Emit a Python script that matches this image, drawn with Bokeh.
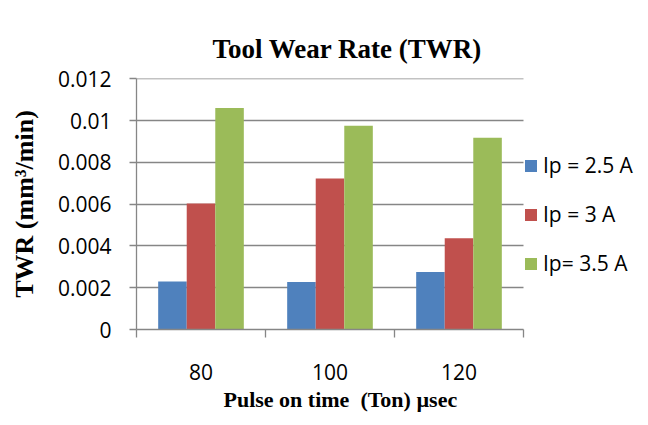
from bokeh.plotting import figure
from bokeh.models import (ColumnDataSource, Range1d, FixedTicker, LinearAxis, Grid, Title,
                          Legend, LegendItem)
from bokeh.transform import dodge
from bokeh.embed import file_html
from bokeh.resources import INLINE

# ---- data ----
categories = ["80", "100", "120"]
series_names = ["Ip = 2.5 A", "Ip = 3 A", "Ip= 3.5 A"]
ip_25 = [0.00230, 0.00227, 0.00275]
ip_30 = [0.00603, 0.00722, 0.00437]
ip_35 = [0.01060, 0.00975, 0.00918]
colors = ["#4F81BD", "#C0504D", "#9BBB59"]
y_ticks = [0, 0.002, 0.004, 0.006, 0.008, 0.010, 0.012]
y_tick_labels = ["0", "0.002", "0.004", "0.006", "0.008", "0.01", "0.012"]
title_text = "Tool Wear Rate (TWR)"
x_title = "Pulse on time\u00a0 (Ton) \u00b5sec"
y_title = "TWR (mm\u00b3/min)"

n = len(categories)
centers = [i + 0.5 for i in range(n)]
src = ColumnDataSource(dict(x=centers, a=ip_25, b=ip_30, c=ip_35))

GRAY = "#868686"
SANS = "Open Sans"
SERIF = "Liberation Serif"

W, H = 640, 417
LEFT, TOP, BOTTOM = 136, 78, 330          # frame edges in pixels
CAT_PX = 129                               # pixel width of one category
x_end = (W - LEFT) / CAT_PX                # frame reaches the right edge (legend lives inside)

p = figure(width=W, height=H, output_backend="svg", toolbar_location=None,
           x_range=Range1d(0, x_end), y_range=Range1d(0, 0.01201),
           min_border_left=LEFT, min_border_right=0, min_border_top=TOP,
           min_border_bottom=H - BOTTOM, x_axis_type=None, y_axis_type=None)
p.outline_line_color = None
p.background_fill_color = "white"
p.border_fill_color = "white"

# title
p.title.text = title_text
p.title.text_font = SERIF
p.title.text_font_style = "bold"
p.title.text_font_size = "27px"
p.title.text_color = "#000000"
p.title.align = "left"
p.title.offset = 76
p.title.standoff = 30

bw = 0.2213
renderers = []
for key, off, col in zip(["a", "b", "c"], [-bw, 0.0, bw], colors):
    r = p.vbar(x=dodge("x", off), top=key, width=bw, bottom=0, source=src,
               fill_color=col, line_color=None)
    renderers.append(r)

# y axis
yaxis = LinearAxis(ticker=FixedTicker(ticks=y_ticks, minor_ticks=[]))
yaxis.major_label_overrides = {t: l for t, l in zip(y_ticks, y_tick_labels)}
yaxis.axis_line_color = GRAY
yaxis.axis_line_width = 1.3
yaxis.major_tick_line_color = GRAY
yaxis.major_tick_line_width = 1.3
yaxis.major_tick_out = 7
yaxis.major_tick_in = 0
yaxis.minor_tick_line_color = None
yaxis.major_label_standoff = 18
yaxis.major_label_text_font = SANS
yaxis.major_label_text_font_size = "21px"
yaxis.major_label_text_color = "#000000"
yaxis.axis_label = y_title
yaxis.axis_label_text_font = SERIF
yaxis.axis_label_text_font_style = "bold"
yaxis.axis_label_text_font_size = "26px"
yaxis.axis_label_text_color = "#000000"
yaxis.axis_label_standoff = 16
p.add_layout(yaxis, "left")

# x axis (labels at category centres, ticks at boundaries)
xaxis = LinearAxis(ticker=FixedTicker(ticks=centers, minor_ticks=list(range(n + 1))),
                   bounds=(0, n))
xaxis.major_label_overrides = {c: l for c, l in zip(centers, categories)}
xaxis.axis_line_color = GRAY
xaxis.axis_line_width = 1.3
xaxis.major_tick_line_color = None
xaxis.minor_tick_line_color = GRAY
xaxis.minor_tick_line_width = 1.3
xaxis.minor_tick_out = 8
xaxis.minor_tick_in = 0
xaxis.major_label_standoff = 26
xaxis.major_label_text_font = SANS
xaxis.major_label_text_font_size = "21px"
xaxis.major_label_text_color = "#000000"
p.add_layout(xaxis, "below")

p.add_layout(Title(text=x_title, text_font=SERIF, text_font_style="bold",
                   text_font_size="22px", text_color="#000000", align="left",
                   offset=87, standoff=8, vertical_align="top"), "below")

grid = Grid(dimension=1, ticker=FixedTicker(ticks=y_ticks[1:]), cross_bounds=(0, n),
            grid_line_color=GRAY, grid_line_width=1.3)
p.add_layout(grid)

legend = Legend(items=[LegendItem(label=s, renderers=[r]) for s, r in zip(series_names, renderers)],
                location=(523 - LEFT, 52), glyph_width=15, glyph_height=15, label_standoff=5,
                spacing=21, padding=0, margin=0, border_line_color=None,
                background_fill_alpha=0, label_text_font=SANS, label_text_font_size="21px",
                label_text_color="#000000")
p.add_layout(legend, "center")

open("out.html", "w").write(file_html(p, INLINE))
